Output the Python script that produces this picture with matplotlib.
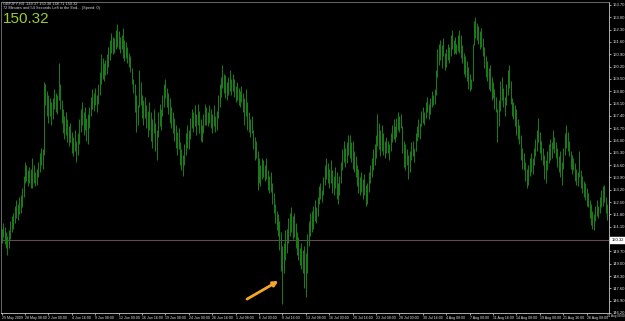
import numpy as np
import matplotlib
matplotlib.use("Agg")
import matplotlib.pyplot as plt
import matplotlib.transforms as mtransforms

# GBPJPY H4 bars, 25 May 2009 16:00 .. 28 Aug 2009 20:00
highs = [
    151.0, 151.3, 151.1, 150.8, 150.6, 150.9, 151.4, 151.7, 151.9, 152.3,
    152.6, 152.4, 152.8, 152.9, 153.3, 154.0, 154.8, 154.6, 154.3, 154.5,
    154.4, 155.0, 154.6, 154.2, 154.4, 154.8, 155.3, 155.6, 155.5, 159.3,
    159.2, 158.8, 158.6, 158.4, 158.2, 158.4, 158.9, 158.7, 158.6, 160.4,
    159.2, 158.3, 157.8, 157.4, 157.6, 157.2, 156.8, 157.0, 156.5, 156.2,
    156.6, 156.0, 156.4, 157.2, 157.8, 158.2, 157.6, 157.9, 157.3, 157.5,
    157.9, 158.5, 158.9, 158.7, 159.0, 158.6, 159.2, 159.9, 160.9, 160.7,
    160.4, 160.6, 160.9, 161.3, 161.7, 162.1, 161.9, 161.8, 162.3, 162.6,
    162.2, 161.9, 162.0, 162.4, 161.7, 161.6, 161.3, 161.0, 160.8, 160.1,
    159.5, 159.2, 158.6, 158.0, 160.0, 159.3, 158.6, 158.3, 158.5, 158.0,
    157.7, 158.2, 157.6, 157.2, 157.8, 157.0, 156.6, 157.6, 158.1, 157.8,
    158.6, 159.2, 159.5, 159.0, 158.7, 158.4, 157.9, 157.6, 157.3, 156.9,
    156.5, 156.7, 155.9, 155.5, 155.2, 155.8, 156.4, 156.9, 156.6, 157.3,
    157.8, 157.6, 158.0, 157.5, 158.1, 157.7, 157.2, 156.9, 157.5, 158.1,
    157.9, 157.6, 158.0, 157.8, 157.5, 158.0, 157.4, 157.7, 158.6, 159.2,
    159.6, 160.3, 159.8, 159.7, 159.3, 159.6, 160.0, 159.5, 159.8, 159.5,
    159.1, 159.3, 159.0, 158.8, 159.1, 158.7, 158.4, 158.9, 158.2, 157.6,
    157.2, 157.4, 156.6, 156.2, 156.0, 155.4, 155.0, 154.6, 155.0, 154.9,
    154.6, 155.0, 154.3, 154.0, 154.2, 153.6, 153.0, 152.4, 152.0, 151.8,
    151.4, 150.8, 150.0, 150.2, 150.9, 151.0, 151.6, 151.9, 152.2, 151.7,
    151.9, 151.3, 150.8, 150.5, 149.9, 150.2, 149.8, 150.0, 149.6, 150.7,
    151.4, 151.9, 152.0, 152.3, 152.6, 152.2, 152.8, 153.4, 153.6, 153.2,
    153.9, 154.6, 155.0, 154.7, 154.4, 154.9, 154.3, 154.0, 154.5, 154.2,
    153.6, 154.0, 154.8, 155.5, 156.0, 155.6, 155.9, 156.3, 156.3, 155.9,
    156.0, 155.4, 155.1, 154.6, 154.4, 153.9, 154.2, 153.8, 154.1, 153.5,
    153.6, 154.2, 154.6, 155.0, 155.5, 155.8, 156.3, 157.5, 157.0, 156.6,
    156.9, 156.4, 156.0, 156.2, 156.0, 155.8, 156.4, 156.9, 157.2, 156.8,
    157.3, 157.6, 157.4, 157.5, 156.8, 156.0, 155.8, 155.5, 155.2, 155.4,
    155.9, 156.0, 155.6, 156.4, 156.8, 157.2, 157.0, 157.7, 157.9, 157.6,
    158.2, 158.5, 158.1, 158.4, 158.8, 158.6, 158.9, 160.0, 161.2, 161.5,
    161.7, 161.4, 161.8, 161.0, 161.2, 161.5, 161.3, 162.0, 162.3, 161.7,
    161.9, 161.5, 162.0, 162.3, 162.0, 161.4, 161.0, 160.8, 160.5, 160.2,
    159.8, 159.5, 161.5, 162.8, 163.0, 162.7, 162.5, 162.2, 162.4, 161.8,
    161.3, 160.8, 160.5, 160.1, 160.3, 159.6, 159.3, 158.9, 158.5, 157.8,
    158.3, 159.4, 159.6, 159.0, 158.5, 159.2, 160.0, 160.3, 159.4, 158.4,
    158.2, 158.0, 157.8, 157.2, 156.9, 156.3, 155.6, 155.3, 154.8, 154.4,
    154.6, 155.0, 155.3, 155.0, 155.6, 156.1, 156.6, 157.3, 156.5, 156.0,
    155.6, 155.2, 154.9, 155.4, 155.8, 156.1, 155.9, 156.6, 156.2, 155.9,
    155.6, 155.1, 155.4, 154.8, 155.6, 156.4, 156.9, 156.5, 156.0, 155.4,
    155.2, 155.0, 154.7, 154.4, 154.2, 155.4, 154.3, 154.0, 153.7, 153.6,
    153.3, 153.0, 152.6, 152.4, 152.0, 151.8, 152.3, 152.6, 152.3, 152.8,
    153.2, 153.4, 153.5, 152.8, 152.4, 152.6,
]
lows = [
    150.2, 150.5, 150.1, 149.9, 149.5, 149.9, 150.4, 150.8, 151.0, 151.3,
    151.6, 151.5, 151.8, 151.9, 152.2, 152.8, 153.6, 153.7, 153.4, 153.6,
    153.3, 153.3, 153.6, 153.4, 153.5, 153.9, 154.2, 154.6, 154.4, 155.2,
    158.0, 157.4, 157.0, 157.4, 156.9, 157.2, 157.8, 157.6, 157.5, 158.3,
    157.8, 157.0, 156.4, 156.1, 156.3, 155.9, 155.7, 155.9, 155.3, 155.1,
    155.4, 154.8, 155.2, 155.8, 156.5, 156.9, 156.3, 156.6, 156.0, 155.8,
    156.7, 157.4, 157.8, 157.7, 158.0, 157.6, 158.1, 158.6, 159.2, 159.5,
    159.4, 159.7, 159.8, 160.2, 160.6, 161.0, 160.9, 161.0, 161.2, 161.3,
    161.2, 161.0, 161.2, 160.7, 160.5, 160.7, 160.4, 160.2, 159.9, 159.2,
    158.7, 157.6, 156.5, 156.9, 157.9, 158.0, 157.3, 156.9, 157.3, 156.7,
    156.2, 156.6, 156.0, 155.6, 156.4, 155.4, 154.9, 156.2, 156.8, 156.6,
    157.4, 157.9, 158.4, 157.9, 157.5, 157.0, 156.7, 156.4, 156.0, 155.6,
    155.2, 155.5, 154.6, 154.3, 154.0, 154.6, 155.2, 155.6, 155.5, 156.1,
    156.7, 156.5, 156.8, 156.3, 156.9, 156.4, 156.0, 155.9, 156.4, 156.9,
    156.9, 156.8, 157.0, 156.7, 156.4, 156.8, 156.5, 156.6, 157.3, 157.9,
    158.5, 159.0, 158.7, 158.4, 158.3, 158.6, 158.8, 158.6, 158.8, 158.5,
    158.2, 158.3, 158.0, 157.9, 158.2, 157.6, 156.9, 157.4, 156.6, 156.5,
    156.2, 156.4, 155.5, 154.9, 155.0, 153.2, 153.6, 153.4, 153.8, 153.9,
    153.7, 153.8, 153.2, 153.0, 153.1, 152.4, 151.9, 151.3, 150.9, 150.6,
    149.8, 148.6, 146.7, 148.5, 149.2, 149.6, 150.2, 150.6, 150.8, 150.4,
    150.5, 149.9, 149.5, 149.2, 148.9, 148.7, 148.5, 147.6, 147.1, 148.5,
    150.0, 150.6, 150.8, 151.0, 151.4, 151.3, 151.7, 152.4, 152.7, 152.5,
    152.9, 153.5, 153.8, 153.6, 153.3, 153.6, 153.0, 152.9, 153.3, 152.7,
    152.4, 152.9, 153.6, 154.3, 154.8, 154.5, 154.7, 155.2, 155.0, 154.8,
    154.4, 154.2, 153.9, 153.4, 153.0, 152.9, 153.1, 152.7, 152.9, 152.3,
    152.4, 153.1, 153.6, 153.9, 154.3, 154.6, 155.0, 155.7, 155.5, 155.1,
    155.4, 155.2, 155.0, 155.3, 155.3, 154.9, 155.4, 155.9, 156.1, 155.9,
    156.2, 156.6, 156.5, 156.7, 155.3, 154.5, 154.3, 154.6, 153.8, 154.2,
    154.9, 155.1, 154.8, 155.4, 156.0, 156.2, 156.1, 156.8, 157.0, 156.9,
    157.3, 157.6, 157.2, 157.5, 157.9, 158.0, 158.1, 158.6, 159.6, 160.3,
    160.6, 160.1, 160.8, 160.0, 160.2, 160.6, 160.4, 160.8, 161.2, 160.9,
    161.0, 160.9, 161.1, 161.0, 160.7, 160.4, 159.8, 159.6, 159.4, 158.9,
    158.8, 158.9, 159.4, 161.4, 161.8, 161.7, 161.5, 161.2, 161.3, 160.8,
    160.1, 159.6, 159.4, 158.9, 158.8, 158.3, 158.4, 157.8, 157.6, 155.9,
    156.8, 157.7, 158.3, 157.9, 157.4, 158.0, 158.6, 159.0, 158.1, 157.4,
    157.2, 156.8, 156.3, 156.1, 155.8, 154.9, 154.4, 154.3, 153.7, 153.3,
    153.5, 154.0, 154.2, 154.1, 154.6, 155.1, 155.4, 155.9, 155.3, 154.9,
    154.6, 153.8, 153.6, 154.3, 154.7, 154.9, 155.0, 155.5, 155.3, 155.0,
    154.5, 154.2, 153.9, 153.5, 154.4, 155.2, 155.6, 155.4, 155.1, 154.4,
    154.1, 154.3, 153.7, 153.5, 153.4, 153.9, 153.3, 153.0, 152.8, 152.6,
    152.3, 152.2, 151.6, 151.2, 151.0, 150.9, 151.4, 151.7, 151.6, 151.9,
    152.2, 152.3, 152.5, 151.9, 151.5, 151.7,
]

# time axis labels (every 16 bars), the last one sits just past the final bar
date_labels = [
    "25 May 2009", "28 May 08:00", "2 Jun 00:00", "4 Jun 16:00", "9 Jun 08:00",
    "12 Jun 00:00", "16 Jun 16:00", "19 Jun 08:00", "24 Jun 00:00", "26 Jun 16:00",
    "1 Jul 08:00", "6 Jul 00:00", "8 Jul 16:00", "13 Jul 08:00", "16 Jul 00:00",
    "20 Jul 16:00", "23 Jul 08:00", "28 Jul 00:00", "30 Jul 16:00", "4 Aug 08:00",
    "7 Aug 00:00", "11 Aug 16:00", "14 Aug 08:00", "19 Aug 00:00", "21 Aug 16:00",
    "26 Aug 08:00", "31 Aug 00:00",
]
label_step = 16

price_ticks = [
    163.70, 163.00, 162.30, 161.60, 160.90, 160.20, 159.50, 158.80, 158.10,
    157.40, 156.70, 156.00, 155.30, 154.60, 153.90, 153.20, 152.50, 151.80,
    151.10, 150.40, 149.70, 149.00, 148.30, 147.60, 146.90, 146.20,
]

symbol = "GBPJPY,H4"
ohlc_last = [149.37, 150.38, 148.71, 150.32]
bid = 150.32
ask = 150.37
timer_text = "72 Minutes and 54 Seconds Left to the End... (Speed: 0)"

W, H = 625, 321
fig = plt.figure(figsize=(W / 100, H / 100), dpi=100, facecolor="black")
ax = fig.add_axes([1 / W, 8 / H, 608 / W, 311 / H], facecolor="black")

x = np.arange(len(highs))
ax.vlines(x, lows, highs, color="#1a7a1a", lw=0.75, zorder=3)

ax.axhline(ask, color="#a01818", lw=0.8, zorder=2)
ax.axhline(bid, color="#55585f", lw=0.6, zorder=2)

ax.set_xlim(-0.41, 415.3)
ax.set_ylim(146.20, 163.87)

for side in ["top", "left"]:
    ax.spines[side].set_color("#7a7a7a")
    ax.spines[side].set_linewidth(0.6)
for side in ["right", "bottom"]:
    ax.spines[side].set_color("#c8c8c8")
    ax.spines[side].set_linewidth(0.6)

# price scale on the right
ax.yaxis.tick_right()
ax.set_yticks(price_ticks)
ax.set_yticklabels([f"{p:.2f}" for p in price_ticks])
ax.tick_params(axis="y", colors="#e0e0e0", labelsize=3.0, length=1.5, width=0.5, pad=1.0)

# time scale
pos = [k * label_step for k in range(len(date_labels))]
in_range = [p for p in pos if p <= 415.3]
ax.set_xticks(in_range)
ax.set_xticklabels(date_labels[:len(in_range)])
ax.tick_params(axis="x", colors="#e0e0e0", labelsize=2.65, length=1.5, width=0.5, pad=0.8)
for lab in ax.get_xticklabels():
    lab.set_ha("left")
    lab.set_fontfamily("Liberation Sans")
for lab in ax.get_yticklabels():
    lab.set_fontfamily("Liberation Sans")
# last label falls past the plot edge; keep it inside the picture
for lab in date_labels[len(in_range):]:
    fig.text(624.5 / W, 1 - 314.5 / H, lab, ha="right", va="top",
             fontsize=2.2, color="#e0e0e0", family="Liberation Sans")

# current price box on the price scale
trans_y = mtransforms.blended_transform_factory(ax.transAxes, ax.transData)
ax.text(1.004, bid, f"{bid:.2f}", transform=trans_y, ha="left", va="center",
        fontsize=3.0, color="black", family="Liberation Sans", zorder=10, clip_on=False,
        bbox=dict(boxstyle="square,pad=0.35", fc="white", ec="white", lw=0.3))

# header
fig.text(3 / W, 1 - 1.5 / H, symbol + "  " + " ".join(f"{v:.2f}" for v in ohlc_last),
         ha="left", va="top", fontsize=2.8, color="#d8d8d8", family="Liberation Sans")
fig.text(3 / W, 1 - 6.5 / H, timer_text, ha="left", va="top", fontsize=2.8,
         color="#d8d8d8", family="Liberation Sans")
fig.text(2.5 / W, 1 - 12 / H, f"{bid:.2f}", ha="left", va="top", fontsize=11,
         color="#9acd32", family="Liberation Sans")

# orange arrow pointing at the July low
i_low = int(np.argmin(lows))
ax.annotate("", xy=(i_low - 2.7, lows[i_low] + 1.32), xytext=(i_low - 24.2, lows[i_low] + 0.29),
            arrowprops=dict(arrowstyle="-|>", color="#f5a623", lw=2.0, mutation_scale=7,
                            shrinkA=0, shrinkB=0), zorder=6)

fig.savefig("out.png", dpi=100, facecolor="black")
